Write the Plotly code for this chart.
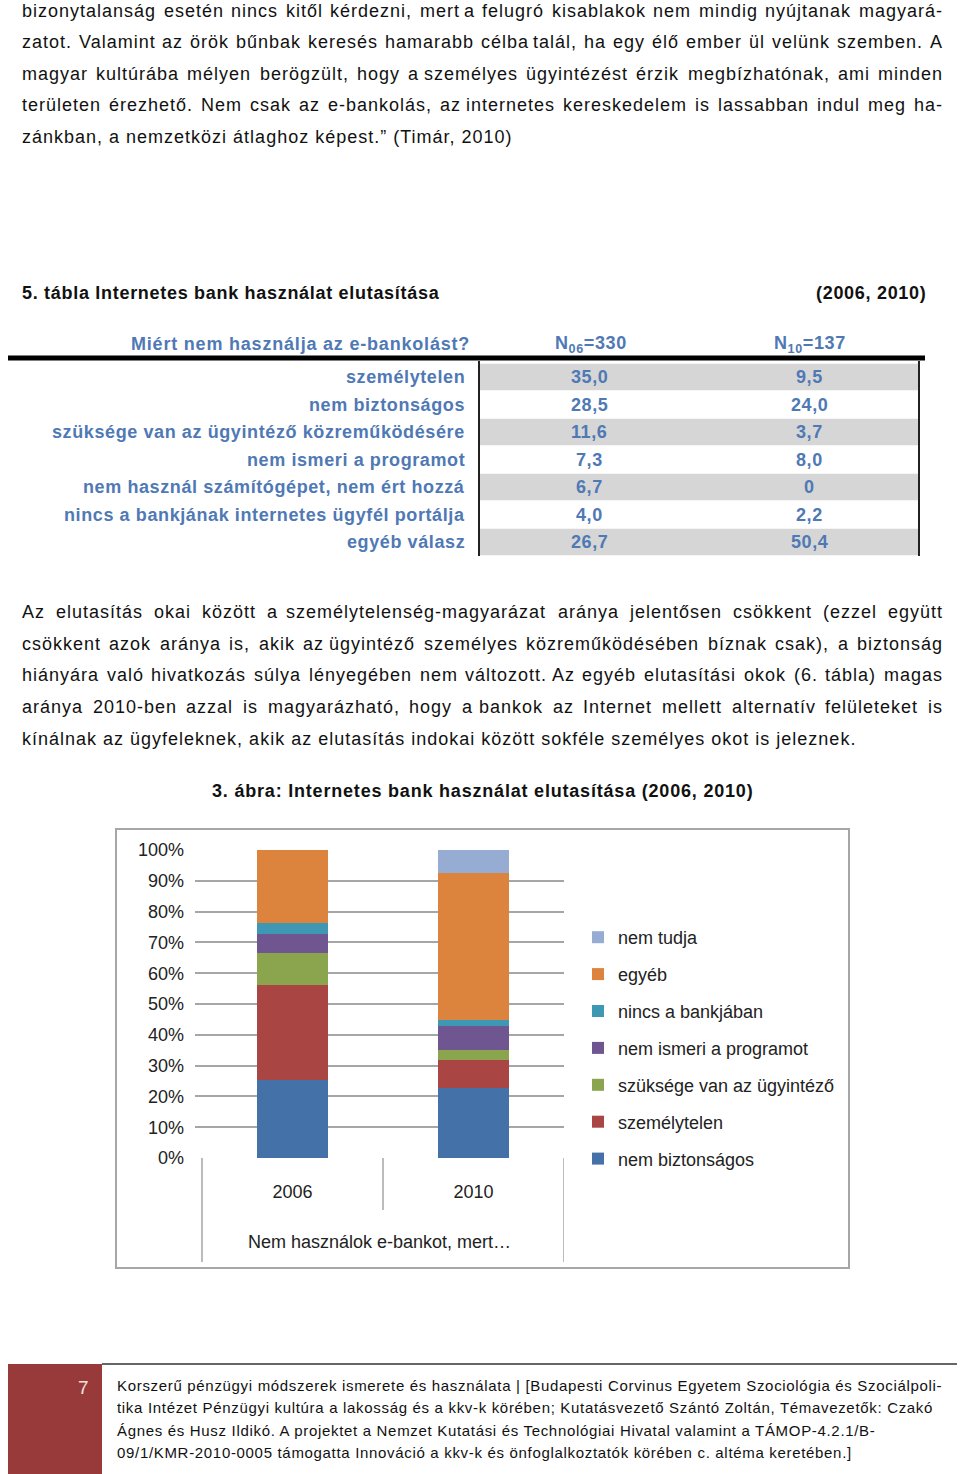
import plotly.graph_objects as go

W, H = 960, 1474
FONT = "Liberation Sans, Arial, Helvetica, sans-serif"
BLUE_TXT = "#4f79b5"
TXT = "#111111"

# ---------------- text content ----------------
para1 = [
    "bizonytalanság esetén nincs kitől kérdezni, mert a felugró kisablakok nem mindig nyújtanak magyará-",
    "zatot. Valamint az örök bűnbak keresés hamarabb célba talál, ha egy élő ember ül velünk szemben. A",
    "magyar kultúrába mélyen berögzült, hogy a személyes ügyintézést érzik megbízhatónak, ami minden",
    "területen érezhető. Nem csak az e-bankolás, az internetes kereskedelem is lassabban indul meg ha-",
    "zánkban, a nemzetközi átlaghoz képest.” (Timár, 2010)",
]
para2 = [
    "Az elutasítás okai között a személytelenség-magyarázat aránya jelentősen csökkent (ezzel együtt",
    "csökkent azok aránya is, akik az ügyintéző személyes közreműködésében bíznak csak), a biztonság",
    "hiányára való hivatkozás súlya lényegében nem változott. Az egyéb elutasítási okok (6. tábla) magas",
    "aránya 2010-ben azzal is magyarázható, hogy a bankok az Internet mellett alternatív felületeket is",
    "kínálnak az ügyfeleknek, akik az elutasítás indokai között sokféle személyes okot is jeleznek.",
]
footer_lines = [
    "Korszerű pénzügyi módszerek ismerete és használata | [Budapesti Corvinus Egyetem Szociológia és Szociálpoli-",
    "tika Intézet Pénzügyi kultúra a lakosság és a kkv-k körében; Kutatásvezető Szántó Zoltán, Témavezetők: Czakó",
    "Ágnes és Husz Ildikó. A projektet a Nemzet Kutatási és Technológiai Hivatal valamint a TÁMOP-4.2.1/B-",
    "09/1/KMR-2010-0005 támogatta Innováció a kkv-k és önfoglalkoztatók körében c. altéma keretében.]",
]
page_number = "7"
table_title = "5. tábla Internetes bank használat elutasítása"
table_years = "(2006, 2010)"
table_header = ["Miért nem használja az e-bankolást?", "N<sub>06</sub>=330", "N<sub>10</sub>=137"]
chart_title = "3. ábra: Internetes bank használat elutasítása (2006, 2010)"
x_title = "Nem használok e-bankot, mert…"

# ---------------- table data ----------------
reasons = [
    "személytelen",
    "nem biztonságos",
    "szüksége van az ügyintéző közreműködésére",
    "nem ismeri a programot",
    "nem használ számítógépet, nem ért hozzá",
    "nincs a bankjának internetes ügyfél portálja",
    "egyéb válasz",
]
n06 = [35.0, 28.5, 11.6, 7.3, 6.7, 4.0, 26.7]
n10 = [9.5, 24.0, 3.7, 8.0, 0, 2.2, 50.4]

# ---------------- chart data ----------------
years = ["2006", "2010"]
nem_biztonsagos = [28.5, 24.0]
szemelytelen = [35.0, 9.5]
szukseges_ugyintezo = [11.6, 3.7]
nem_ismeri = [7.3, 8.0]
nincs_bankjaban = [4.0, 2.2]
egyeb = [26.7, 50.4]
nem_tudja = [0.0, 8.0]

series_names = ["nem biztonságos", "személytelen", "szüksége van az ügyintéző",
                "nem ismeri a programot", "nincs a bankjában", "egyéb", "nem tudja"]
series_values = [nem_biztonsagos, szemelytelen, szukseges_ugyintezo, nem_ismeri,
                 nincs_bankjaban, egyeb, nem_tudja]
series_colors = ["#4471a8", "#a94542", "#8aa54d", "#6f5690", "#3f98b3", "#dc843e", "#97acd3"]

# Arial / Liberation Sans advance widths (1/1000 em) for text-width estimates
_AW = {" ": 278, "f": 278, "i": 222, "j": 222, "l": 222, "r": 333, "t": 278, "m": 833,
       "w": 722, "c": 500, "k": 500, "s": 500, "v": 500, "x": 500, "y": 500, "z": 500,
       "í": 278, "I": 278, "A": 667, "Á": 667, "N": 722, "T": 611, "M": 833, "K": 667,
       ".": 278, ",": 278, "-": 333, "(": 333, ")": 333, "”": 333, ":": 278, ";": 278,
       "/": 278, "|": 260, "[": 278, "]": 278}


def tw(s, size, ls):
    return sum(_AW.get(c, 556) for c in s) * size / 1000 + len(s) * ls + 0.8


def X(px):
    return px / W


def Y(py):
    return 1 - py / H


def fmt(v):
    return "0" if v == 0 else f"{v:.1f}".replace(".", ",")


fig = go.Figure()

for k, (name, vals, col) in enumerate(zip(series_names, series_values, series_colors)):
    fig.add_trace(go.Bar(
        x=years, y=vals, name=name, marker=dict(color=col, line=dict(width=0)),
        legendgroup=name, legendrank=100 - k,
    ))

annotations = []
shapes = []


def text(x, y, s, size=18, anchor="left", color=TXT, bold=False, ls=0.0):
    if ls:
        s = f"<span style='letter-spacing:{ls:.2f}px'>{s}</span>"
    if bold:
        s = "<b>" + s + "</b>"
    annotations.append(dict(
        x=X(x), y=Y(y), xref="paper", yref="paper", text=s, showarrow=False,
        xanchor=anchor, yanchor="middle", font=dict(family=FONT, size=size, color=color),
    ))


BODY_LS = 1.0


def justified(line, y, x0=20, x1=945, size=18):
    words = line.split(" ")
    nchar = sum(len(w) for w in words)
    gaps = len(words) - 1
    ls = BODY_LS
    wsum = sum(tw(w, size, ls) for w in words)
    min_gap = 5.0
    if wsum + gaps * min_gap > (x1 - x0):
        ls -= (wsum + gaps * min_gap - (x1 - x0)) / nchar
        wsum = sum(tw(w, size, ls) for w in words)
    gap = ((x1 - x0) - wsum) / gaps
    x = x0
    half = len(words) // 2
    for i, w in enumerate(words):
        wd = tw(w, size, ls)
        if i < half:
            text(x, y, w, size=size, anchor="left", ls=ls)
        else:
            text(x + wd, y, w, size=size, anchor="right", ls=ls)
        x += wd + gap


def rect(x0, y0, x1, y1, fill=None, line_color=None, lw=0):
    shapes.append(dict(
        type="rect", xref="paper", yref="paper", x0=X(x0), x1=X(x1), y0=Y(y0), y1=Y(y1),
        fillcolor=fill if fill else "rgba(0,0,0,0)",
        line=dict(color=line_color if line_color else "rgba(0,0,0,0)", width=lw),
        layer="below",
    ))


def hline(x0, x1, y, color, lw):
    shapes.append(dict(type="line", xref="paper", yref="paper", x0=X(x0), x1=X(x1),
                       y0=Y(y), y1=Y(y), line=dict(color=color, width=lw)))


def vline(x, y0, y1, color, lw):
    shapes.append(dict(type="line", xref="paper", yref="paper", x0=X(x), x1=X(x),
                       y0=Y(y0), y1=Y(y1), line=dict(color=color, width=lw)))


# paragraph 1
p1_y = [11, 42, 74, 105, 137]
for i, (ln, y) in enumerate(zip(para1, p1_y)):
    if i < len(para1) - 1:
        justified(ln, y)
    else:
        text(20, y, ln, ls=BODY_LS)

TBL_LS = 0.6
# table title
text(20, 293, table_title, size=18, bold=True, ls=0.7)
text(928, 293, table_years, size=18, anchor="right", bold=True, ls=0.7)

# table header
text(472, 344, table_header[0], size=18, anchor="right", color=BLUE_TXT, bold=True, ls=0.8)
text(591, 344, table_header[1], size=18, anchor="center", color=BLUE_TXT, bold=True, ls=TBL_LS)
text(810, 344, table_header[2], size=18, anchor="center", color=BLUE_TXT, bold=True, ls=TBL_LS)
hline(8, 925, 358, "#000000", 5)

row_h = 27.5
row0 = 377
for i, (r, a, b) in enumerate(zip(reasons, n06, n10)):
    yc = row0 + i * row_h
    if i % 2 == 0:
        rect(480, yc - row_h / 2 + 0.5, 918, yc + row_h / 2 - 0.5, fill="#d6d6d6")
    text(467, yc, r, size=18, anchor="right", color=BLUE_TXT, bold=True, ls=TBL_LS)
    text(589, yc, fmt(a), size=18, anchor="center", color=BLUE_TXT, bold=True, ls=TBL_LS)
    text(809, yc, fmt(b), size=18, anchor="center", color=BLUE_TXT, bold=True, ls=TBL_LS)
vline(479, 361, 556, "#222222", 2)
vline(919, 361, 556, "#222222", 2)

# paragraph 2
p2_y = [612, 644, 675, 707, 739]
for i, (ln, y) in enumerate(zip(para2, p2_y)):
    if i < len(para2) - 1:
        justified(ln, y)
    else:
        text(20, y, ln, ls=BODY_LS)

# chart title and frame
text(482, 791, chart_title, size=18, anchor="center", bold=True, ls=0.8)
rect(116, 829, 849, 1268, line_color="#a6a6a6", lw=2)

# category dividers below the plot (in axis coordinates)
for xc, y_end in [(-0.5, 1262), (0.5, 1210), (1.5, 1262)]:
    shapes.append(dict(type="line", xref="x", yref="paper", x0=xc, x1=xc,
                       y0=Y(1158), y1=Y(y_end), line=dict(color="#a6a6a6", width=1.5)))

# footer
rect(8, 1364, 102, 1476, fill="#983a39")
hline(102, 957, 1364, "#333333", 1.5)
text(91, 1387, page_number, size=19, anchor="right", color="#f4e0df")
f_y = [1385, 1407, 1430, 1452]
for ln, y in zip(footer_lines, f_y):
    text(115, y, ln, size=15, ls=0.68)

# plot area starts 7 px left of the first category boundary so gridlines reach past it
cat_px = (564 - 202) / 2
x_left_pad = 7 / cat_px

fig.update_layout(
    width=W, height=H, autosize=False,
    margin=dict(l=0, r=0, t=0, b=0, autoexpand=False),
    paper_bgcolor="white", plot_bgcolor="white",
    barmode="stack", barnorm="percent", bargap=0.605,
    font=dict(family=FONT, size=18, color="#222222"),
    showlegend=True,
    legend=dict(
        x=X(578), y=Y(919), xanchor="left", yanchor="top",
        traceorder="grouped", tracegroupgap=10.5,
        font=dict(family=FONT, size=18, color="#222222"),
        bgcolor="rgba(0,0,0,0)",
    ),
    xaxis=dict(
        domain=[X(195), X(564)], type="category", range=[-0.5 - x_left_pad, 1.5],
        showgrid=False, zeroline=False,
        showline=False, ticks="", tickfont=dict(size=18, color="#222222"),
        ticklabelstandoff=21, automargin=False,
        title=dict(text=x_title, font=dict(size=18, color="#222222"), standoff=34),
        fixedrange=True,
    ),
    yaxis=dict(
        domain=[Y(1158), Y(850)], range=[0, 100], dtick=10, ticksuffix="%",
        showgrid=True, gridcolor="#a6a6a6", gridwidth=1.5, zeroline=False, showline=False,
        ticks="", automargin=False,
        ticklabelstandoff=10, tickfont=dict(size=18, color="#222222"), fixedrange=True,
    ),
    annotations=annotations,
    shapes=shapes,
)

fig.write_html("out.html", config={"displayModeBar": False},
               post_script="document.body.style.margin='0px';")
